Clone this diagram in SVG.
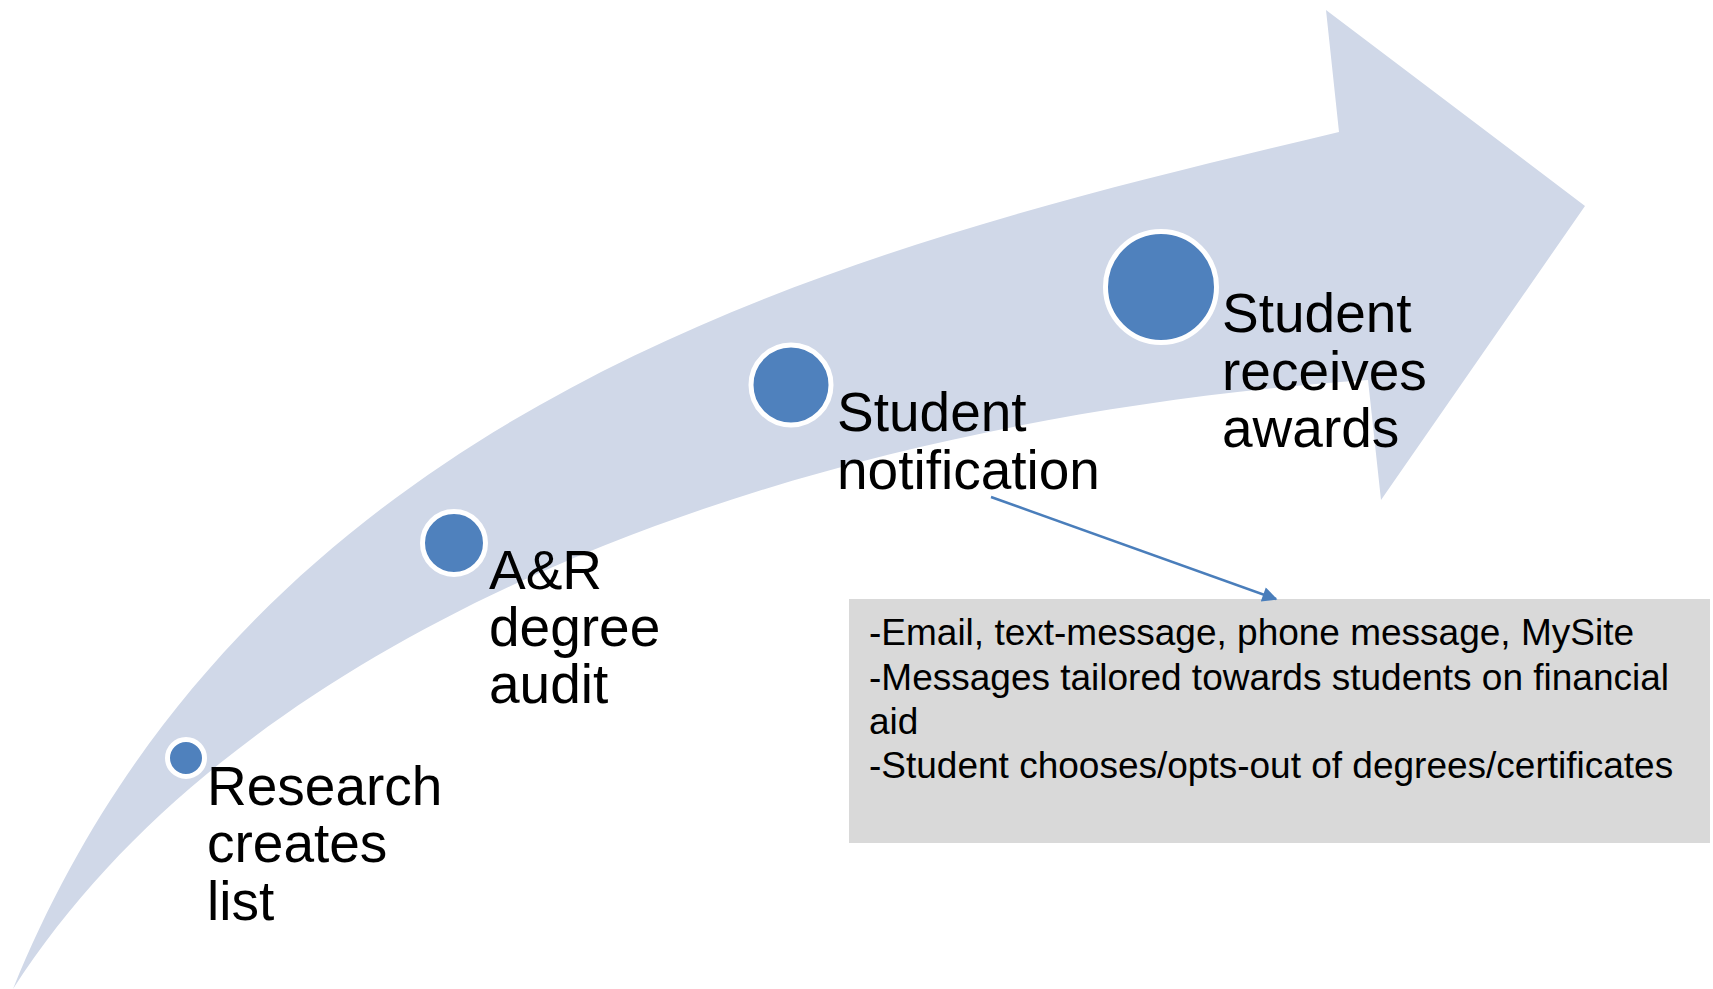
<svg xmlns="http://www.w3.org/2000/svg" width="1713" height="989" viewBox="0 0 1713 989">
<style>
.lbl{font-family:"Liberation Sans",Arial,sans-serif;font-size:55px;fill:#000}
.box{font-family:"Liberation Sans",Arial,sans-serif;font-size:37px;fill:#000}
.dot{fill:#4F81BD;stroke:#FFFFFF;stroke-width:5}
</style>
<defs>
<marker id="ah" viewBox="0 0 10 10" refX="9" refY="5" markerWidth="7" markerHeight="6" markerUnits="strokeWidth" orient="auto">
<path d="M0,0 L10,5 L0,10 z" fill="#4A7EBB"/>
</marker>
</defs>
<rect width="1713" height="989" fill="#FFFFFF"/>
<g id="arrow-band">
<path fill="#D0D8E8" d="M13,989 C260,380 889,240 1339,132 L1326,10 L1585,206 L1381,500 L1368,380 C800,420 250,620 13,989 Z"/>
</g>
<g id="node-research">
<circle class="dot" cx="186" cy="758" r="18.5"/>
<text class="lbl" x="207" y="805">Research</text>
<text class="lbl" x="207" y="862">creates</text>
<text class="lbl" x="207" y="920">list</text>
</g>
<g id="node-audit">
<circle class="dot" cx="454" cy="543" r="31.5"/>
<text class="lbl" x="489" y="589">A&amp;R</text>
<text class="lbl" x="489" y="646">degree</text>
<text class="lbl" x="489" y="703">audit</text>
</g>
<g id="node-notification">
<circle class="dot" cx="791" cy="385" r="40"/>
<text class="lbl" x="837" y="431">Student</text>
<text class="lbl" x="837" y="489">notification</text>
</g>
<g id="node-awards">
<circle class="dot" cx="1161" cy="287" r="55.5"/>
<text class="lbl" x="1222" y="332">Student</text>
<text class="lbl" x="1222" y="390">receives</text>
<text class="lbl" x="1222" y="447">awards</text>
</g>
<g id="node-details">
<rect x="849" y="599" width="861" height="244" fill="#D9D9D9"/>
<text class="box" x="869" y="645">-Email, text-message, phone message, MySite</text>
<text class="box" x="869" y="690">-Messages tailored towards students on financial</text>
<text class="box" x="869" y="734">aid</text>
<text class="box" x="869" y="778">-Student chooses/opts-out of degrees/certificates</text>
</g>
<g id="connectors">
<line x1="991" y1="497" x2="1276" y2="599" stroke="#4A7EBB" stroke-width="2.5" marker-end="url(#ah)"/>
</g>
</svg>
